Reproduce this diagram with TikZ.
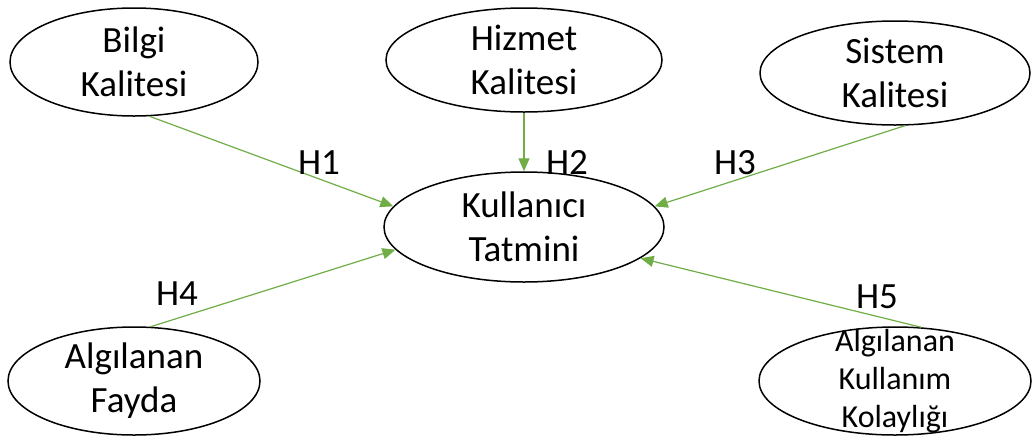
\documentclass[tikz,border=0pt]{standalone}
\usepackage{fontspec}
\setmainfont{Carlito}
\usetikzlibrary{shapes.geometric,arrows.meta}
\definecolor{hgreen}{HTML}{70AD47}
\tikzset{
    construct/.style={draw, ellipse, line width=1.5pt, inner sep=0pt},
    construct text/.style={align=center, inner sep=0pt, font=\fontsize{37}{44}\selectfont},
    hypo/.style={draw=hgreen, line width=1.2pt, -{Triangle[length=13pt,width=11pt]}},
    hlabel/.style={font=\fontsize{37}{40}\selectfont}
}

\begin{document}
\begin{tikzpicture}[x=1pt,y=-1pt]
            \useasboundingbox (0,0) rectangle (1034,437);

            \node[construct, minimum width=248pt, minimum height=108pt, label={[construct text]center:{Bilgi\\Kalitesi}}] (bilgi) at (134,62) {}; % Bilgi
            \node[construct, minimum width=276pt, minimum height=104pt, label={[construct text]center:{Hizmet\\Kalitesi}}] (hizmet) at (524,60) {}; % Hizmet
            \node[construct, minimum width=270pt, minimum height=104pt, label={[construct text]center:{Sistem\\Kalitesi}}] (sistem) at (895,73) {}; % Sistem
            \node[construct, minimum width=280pt, minimum height=110pt, label={[construct text]center:{Kullanıcı\\Tatmini}}] (tatmin) at (524,227) {}; % Tatmin
            \node[construct, minimum width=252pt, minimum height=108pt, label={[construct text]center:{Algılanan\\Fayda}}] (fayda) at (134,381) {}; % Fayda
            \node[construct, minimum width=272pt, minimum height=108pt, label={[construct text, font=\fontsize{32}{38}\selectfont]center:{Algılanan\\Kullanım\\Kolaylığı}}] (kolay) at (895,381) {}; % Kolaylik

            \draw[hypo] (bilgi.-74) -- (tatmin.171); % H1
            \draw[hypo] (hizmet.south) -- (tatmin.north); % H2
            \draw[hypo] (sistem.-79) -- (tatmin.9); % H3
            \draw[hypo] (fayda.73) -- (tatmin.-170); % H4
            \draw[hypo] (kolay.64) -- (tatmin.-15); % H5

            \node[hlabel] (h1) at (319,163) {H1};
            \node[hlabel] (h2) at (567,162) {H2};
            \node[hlabel] (h3) at (735,163) {H3};
            \node[hlabel] (h4) at (177,294) {H4};
            \node[hlabel] (h5) at (877,297) {H5};

        \end{tikzpicture}
\end{document}
